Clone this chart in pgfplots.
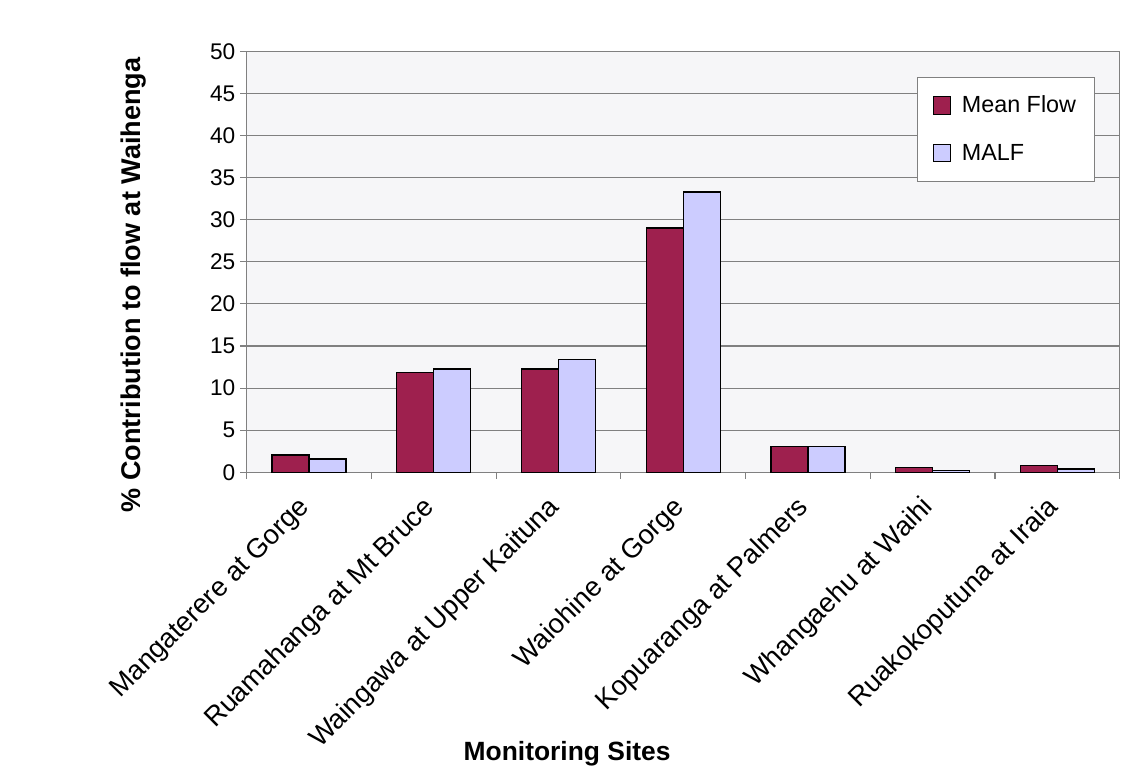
\documentclass[border=0pt]{standalone}
\usepackage{fontspec}
\setmainfont{Liberation Sans}
\usepackage{pgfplots}
\pgfplotsset{compat=1.18}
\definecolor{meanflow}{RGB}{158,32,78}
\definecolor{malf}{RGB}{204,204,255}
\definecolor{gridc}{RGB}{128,128,128}
\definecolor{bgc}{RGB}{246,246,248}
\begin{document}
\begin{tikzpicture}
\path[use as bounding box] (-185pt,-229.3pt) rectangle (661.7pt,354.2pt);
\begin{axis}[
  at={(0,0)}, anchor=south west,
  scale only axis, width=654.75pt, height=315.75pt,
  ybar=0pt, bar width=27.75pt,
  xmin=-0.5, xmax=6.5, ymin=0, ymax=50,
  ytick={0,5,...,50},
  xtick={0,...,6},
  xticklabels={Mangaterere at Gorge, Ruamahanga at Mt Bruce, Waingawa at Upper Kaituna, Waiohine at Gorge, Kopuaranga at Palmers, Whangaehu at Waihi, Ruakokoputuna at Iraia},
  xtick style={draw=none},
  extra x ticks={-0.5,0.5,...,6.5},
  extra x tick labels={},
  extra x tick style={xtick style={draw=gridc, line width=0.8pt}},
  ytick style={draw=gridc, line width=0.8pt},
  tick pos=left,
  tick align=outside, major tick length=5pt,
  ymajorgrids, grid style={gridc, line width=0.8pt},
  axis line style={gridc, line width=0.8pt},
  axis background/.style={fill=bgc},
  /pgf/number format/assume math mode=true,
  yticklabel style={font=\fontsize{17}{20}\selectfont},
  xticklabel style={font=\fontsize{20.5}{23}\selectfont, rotate=45, anchor=east},
  xticklabel shift=16pt,
  ylabel={\% Contribution to flow at Waihenga},
  xlabel={Monitoring Sites},
  every axis y label/.style={at={(axis description cs:-0.130,0.445)}, anchor=center, rotate=90, font=\bfseries\fontsize{20.3}{23}\selectfont},
  every axis x label/.style={at={(axis description cs:0.367,-0.669)}, anchor=center, font=\bfseries\fontsize{19.8}{22}\selectfont},
  legend style={at={(axis description cs:0.768,0.939)}, anchor=north west, draw=gridc, fill=white, font=\fontsize{17.5}{20}\selectfont, row sep=18pt, inner xsep=11.5pt, inner ysep=12pt, cells={anchor=west}},
  legend cell align=left,
]
\addplot[fill=meanflow, draw=black, line width=1pt, legend image code/.code={\draw[fill=meanflow, draw=black, line width=0.7pt] (0pt,-6.5pt) rectangle (13pt,6.5pt); \path (19pt,0pt);}] coordinates {(0,2.05) (1,11.86) (2,12.25) (3,29.0) (4,3.04) (5,0.6) (6,0.83)};
\addplot[fill=malf, draw=black, line width=1pt, legend image code/.code={\draw[fill=malf, draw=black, line width=0.7pt] (0pt,-6.5pt) rectangle (13pt,6.5pt); \path (19pt,0pt);}] coordinates {(0,1.58) (1,12.25) (2,13.4) (3,33.3) (4,3.04) (5,0.24) (6,0.39)};
\legend{Mean Flow, MALF}
\end{axis}
\end{tikzpicture}
\end{document}
